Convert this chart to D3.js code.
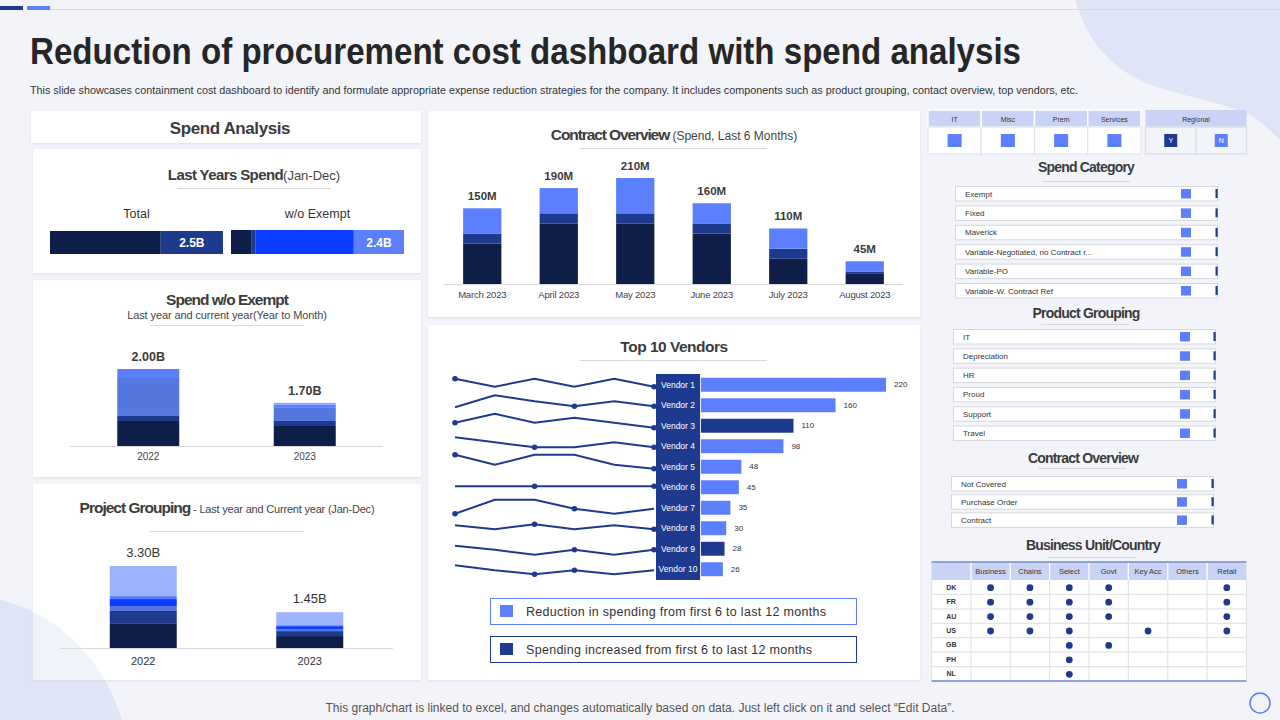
<!DOCTYPE html>
<html><head><meta charset="utf-8">
<script src="https://cdn.jsdelivr.net/npm/d3@7"></script>
<style>html,body{margin:0;padding:0;background:#f3f4f9;overflow:hidden}svg{display:block;font-family:"Liberation Sans",Arial,sans-serif}</style>
</head><body><svg id="c" width="1280" height="720"></svg>
<script>
// ---------------- DATA ----------------
const titleText = "Reduction of procurement cost dashboard with spend analysis";
const subtitleText = "This slide showcases containment cost dashboard to identify and formulate appropriate expense reduction strategies for the company. It includes components such as product grouping, contact overview, top vendors, etc.";
const footerText = "This graph/chart is linked to excel, and changes automatically based on data. Just left click on it and select \u201CEdit Data\u201D.";

const lastYearBars = ["Total", "w/o Exempt"];
const lastYearValues = ["2.5B", "2.4B"];
const totalShares = [64, 36];
const woExemptShares = [12, 2, 57, 29];

const spendYears = ["2022", "2023"];
const spendWo2022 = [0.65, 0.13, 1.01, 0.21, 0];
const spendWo2023 = [0.52, 0.13, 0.34, 0.08, 0.05];
const spendWoLabels = ["2.00B", "1.70B"];

const project2022 = [0.97, 0.52, 0.20, 0.28, 0.12, 1.21];
const project2023 = [0.48, 0.20, 0.08, 0.12, 0.04, 0.52];
const projectLabels = ["3.30B", "1.45B"];

const months = ["March 2023", "April 2023", "May 2023", "June 2023", "July 2023", "August 2023"];
const contractDark = [80, 120, 120, 100, 50, 20];
const contractNavy = [20, 20, 20, 20, 20, 4];
const contractLight = [50, 50, 70, 40, 40, 21];
const contractLabels = ["150M", "190M", "210M", "160M", "110M", "45M"];

const vendors = ["Vendor 1","Vendor 2","Vendor 3","Vendor 4","Vendor 5","Vendor 6","Vendor 7","Vendor 8","Vendor 9","Vendor 10"];
const vendorSpend = [220, 160, 110, 98, 48, 45, 35, 30, 28, 26];
const vendorIncreased = [false, false, true, false, false, false, false, false, true, false];
const vendorSpark = [
  [6,-2,6,-2,6,-2],
  [-2,10,4,-1,4,-1],
  [3,12,3,8,3,-2],
  [9,4,-1,-1,4,-1],
  [12,2,12,12,2,-2],
  [1,1,1,1,1,1],
  [-6,8,8,-1,-6,-1],
  [3,-1,4,-1,3,-1],
  [3,-1,-6,-1,-6,-1],
  [4,-1,-5,-1,-5,-1]
];
const vendorSparkDots = [[0,5],[3,5],[0,5],[2,5],[0,5],[2,5],[0,3],[2,5],[3,5],[2,3]];
const legendItems = ["Reduction in spending from first 6 to last 12 months", "Spending increased from first 6 to last 12 months"];

const filterTypes = ["IT", "Misc", "Prem", "Services"];
const regionalOptions = ["Y", "N"];
const spendCategories = ["Exempt", "Fixed", "Maverick", "Variable-Negotiated,  no Contract r...", "Variable-PO", "Variable-W. Contract Ref"];
const productGroups = ["IT", "Depreciation", "HR", "Proud", "Support", "Travel"];
const contractTypes = ["Not Covered", "Purchase  Order", "Contract"];
const businessUnits = ["Business", "Chains", "Select", "Govt", "Key  Acc", "Others", "Retail"];
const countries = ["DK", "FR", "AU", "US", "GB", "PH", "NL"];
const unitMatrix = [
  [1,1,1,1,0,0,1],
  [1,1,1,1,0,0,1],
  [1,1,1,1,0,0,1],
  [1,1,1,0,1,0,1],
  [0,0,1,1,0,0,0],
  [0,0,1,0,0,0,0],
  [0,0,1,0,0,0,0]
];

// ---------------- STYLE ----------------
const C = {dark:"#0f1e48", navy:"#1e3a8f", mid:"#5577e0", light:"#5b7fff", bright:"#0a3dff", pale:"#9db3ff", vlight:"#8ea6ff", text:"#333", head:"#3b3b3b", rule:"#d9d9d9", hdr:"#c9d3f5"};
const svg = d3.select("#c");
svg.style("white-space","pre");
const defs = svg.append("defs");
const f = defs.append("filter").attr("id","sh").attr("x","-5%").attr("y","-5%").attr("width","110%").attr("height","115%");
f.append("feDropShadow").attr("dx",0).attr("dy",1).attr("stdDeviation",1.2).attr("flood-color","#8890b0").attr("flood-opacity",0.2);

svg.append("rect").attr("width",1280).attr("height",720).attr("fill","#f3f4f9");
const blobTR = "M1075,0 C1090,50 1120,75 1160,88 C1200,100 1230,105 1250,115 C1265,125 1275,135 1280,140 L1280,0 Z";
const blobBL = "M0,600 C50,612 100,650 122,720 L0,720 Z";
svg.append("path").attr("d",blobTR).attr("fill","#dfe4f6");
svg.append("path").attr("d",blobBL).attr("fill","#dfe4f6");

svg.append("line").attr("x1",50).attr("x2",1280).attr("y1",9.5).attr("y2",9.5).attr("stroke","#d5d8e2").attr("stroke-width",1);
svg.append("rect").attr("x",0).attr("y",6).attr("width",23).attr("height",4).attr("fill",C.navy);
svg.append("rect").attr("x",27).attr("y",6).attr("width",23).attr("height",4).attr("fill",C.light);

svg.append("text").attr("x",30).attr("y",64).attr("font-size",36).attr("font-weight",700).attr("fill","#262626")
  .attr("textLength",991).attr("lengthAdjust","spacingAndGlyphs").text(titleText);
svg.append("text").attr("x",30).attr("y",94).attr("font-size",10.5).attr("fill","#333")
  .attr("textLength",1048).attr("lengthAdjust","spacingAndGlyphs").text(subtitleText);

function panel(x,y,w,h){ svg.append("rect").attr("x",x).attr("y",y).attr("width",w).attr("height",h).attr("fill","#fff").attr("filter","url(#sh)"); }
function rule(x1,x2,y){ svg.append("line").attr("x1",x1).attr("x2",x2).attr("y1",y+0.5).attr("y2",y+0.5).attr("stroke",C.rule).attr("stroke-width",1); }
function title(x,y,parts){
  const t = svg.append("text").attr("x",x).attr("y",y).attr("text-anchor","middle").attr("fill",C.head);
  parts.forEach(p => t.append("tspan").text(p.t).attr("font-size",p.s).attr("font-weight",p.b?700:400)
    .attr("letter-spacing",p.ls!==undefined?p.ls:(p.b?-0.8:0)).attr("fill",p.b?C.head:"#444"));
  return t;
}
function txt(x,y,s,opts={}){
  return svg.append("text").attr("x",x).attr("y",y).text(s).attr("font-size",opts.size||10)
    .attr("font-weight",opts.bold?700:400).attr("fill",opts.fill||C.text).attr("text-anchor",opts.anchor||"middle")
    .attr("dominant-baseline",opts.db||"auto");
}

panel(31,111,390,32);
panel(33,149,388,124);
panel(33,280,388,197);
panel(33,484,388,196);
panel(428,111,492,206);
panel(428,325,492,355);
svg.append("path").attr("d",blobBL).attr("fill","#dfe4f6").attr("opacity",0.45);

// ---------------- Spend Analysis ----------------
title(230,134,[{t:"Spend Analysis",s:17,b:true,ls:-0.4}]);
title(254,180,[{t:"Last Years Spend",s:15,b:true,ls:-0.6},{t:"(Jan-Dec)",s:13,b:false}]);
rule(177,331,188);

const hbars = [
  {x0:50,x1:223,y:231,shares:totalShares,colors:[C.dark,C.navy]},
  {x0:231,x1:404,y:230,shares:woExemptShares,colors:[C.dark,C.navy,C.bright,C.light]}
];
hbars.forEach((b,i)=>{
  const xs = d3.scaleLinear().domain([0,d3.sum(b.shares)]).range([b.x0,b.x1]);
  txt((b.x0+b.x1)/2,218,lastYearBars[i],{size:12.5,fill:"#333"});
  let acc=0, last=null;
  b.shares.forEach((v,j)=>{
    svg.append("rect").attr("x",xs(acc)).attr("y",b.y).attr("width",xs(acc+v)-xs(acc)).attr("height",254-b.y).attr("fill",b.colors[j]);
    last=[xs(acc),xs(acc+v)]; acc+=v;
  });
  txt((last[0]+last[1])/2,247,lastYearValues[i],{size:12,bold:true,fill:"#fff"});
});

// ---------------- Spend w/o Exempt ----------------
title(227,305,[{t:"Spend w/o Exempt",s:15.5,b:true,ls:-1}]);
title(227,319,[{t:"Last year and current year(Year to Month)",s:11,b:false,ls:-0.1}]);
rule(150,304,325);
function vstack(cx,w,vals,colors,y){
  let acc=0;
  vals.forEach((v,i)=>{
    const y0=y(acc), y1=y(acc+v);
    if(v>0) svg.append("rect").attr("x",cx-w/2).attr("y",y1).attr("width",w).attr("height",y0-y1).attr("fill",colors[i]);
    acc+=v;
  });
  return y(acc);
}
{
  const x = d3.scalePoint().domain(spendYears).range([70,383]).padding(0.5);
  const y = d3.scaleLinear().domain([0,2.00]).range([446,369]);
  const cols=[C.dark,C.navy,C.mid,C.light,C.vlight];
  [spendWo2022,spendWo2023].forEach((vals,i)=>{
    const top = vstack(x(spendYears[i]),62,vals,cols,y);
    txt(x(spendYears[i]),top-8,spendWoLabels[i],{size:12.5,bold:true,fill:"#3b3b3b"});
    txt(x(spendYears[i]),460,spendYears[i],{size:10,fill:"#444"});
  });
  svg.append("line").attr("x1",70).attr("x2",383).attr("y1",446.5).attr("y2",446.5).attr("stroke",C.rule);
}

// ---------------- Project Grouping ----------------
title(227,513,[{t:"Project Grouping",s:15.5,b:true,ls:-1},{t:" - Last year and Current year (Jan-Dec)",s:11,b:false,ls:-0.2}]);
rule(150,304,531);
{
  const x = d3.scalePoint().domain(spendYears).range([60,393]).padding(0.5);
  const y = d3.scaleLinear().domain([0,3.30]).range([648,566]);
  const cols=[C.dark,C.navy,C.mid,C.bright,C.light,C.pale];
  [project2022,project2023].forEach((vals,i)=>{
    const top = vstack(x(spendYears[i]),67,vals,cols,y);
    txt(x(spendYears[i]),top-9,projectLabels[i],{size:13,fill:"#333"}).attr("font-weight",500);
    txt(x(spendYears[i]),665,spendYears[i],{size:11,fill:"#333"});
  });
  svg.append("line").attr("x1",60).attr("x2",393).attr("y1",648.5).attr("y2",648.5).attr("stroke",C.rule);
}

// ---------------- Contract Overview ----------------
title(674,140,[{t:"Contract Overview",s:15.5,b:true,ls:-1.1},{t:" (Spend, Last 6 Months)",s:12,b:false}]);
rule(580,767,148);
{
  const x = d3.scaleBand().domain(months).range([444,903]).paddingInner(0.5).paddingOuter(0.25);
  const y = d3.scaleLinear().domain([0,210]).range([284,178]);
  months.forEach((m,i)=>{
    const top = vstack(x(m)+x.bandwidth()/2,x.bandwidth(),[contractDark[i],contractNavy[i],contractLight[i]],[C.dark,C.navy,C.light],y);
    txt(x(m)+x.bandwidth()/2,top-8.5,contractLabels[i],{size:11.5,bold:true,fill:"#3b3b3b"});
    txt(x(m)+x.bandwidth()/2,298,m,{size:9.5,fill:"#444"}).attr("letter-spacing",-0.2);
  });
  svg.append("line").attr("x1",444).attr("x2",903).attr("y1",284.5).attr("y2",284.5).attr("stroke",C.rule);
}

// ---------------- Top 10 Vendors ----------------
title(674,352,[{t:"Top 10 Vendors",s:15.5,b:true,ls:-0.5}]);
rule(580,767,360);
{
  const y = d3.scaleBand().domain(vendors).range([374.5,579.5]).paddingInner(0.32).paddingOuter(0.16);
  const x = d3.scaleLinear().domain([0,220]).range([701,886]);
  const sx = d3.scalePoint().domain(d3.range(6)).range([455,654]);
  const sy = d3.scaleLinear().domain([-10,10]).range([10,-10]);
  svg.append("rect").attr("x",656).attr("y",374).attr("width",44).attr("height",206).attr("fill",C.navy);
  vendors.forEach((v,i)=>{
    const cy = y(v)+y.bandwidth()/2;
    const line = d3.line().x((d,j)=>sx(j)).y(d=>cy+sy(d));
    svg.append("path").attr("d",line(vendorSpark[i])).attr("fill","none").attr("stroke",C.navy).attr("stroke-width",2);
    vendorSparkDots[i].forEach(j=>svg.append("circle").attr("cx",sx(j)).attr("cy",cy+sy(vendorSpark[i][j])).attr("r",2.8).attr("fill",C.navy));
    txt(678,cy,v,{size:8.5,fill:"#fff",db:"central"});
    svg.append("rect").attr("x",x(0)).attr("y",y(v)).attr("width",x(vendorSpend[i])-x(0)).attr("height",y.bandwidth())
      .attr("fill",vendorIncreased[i]?C.navy:C.light);
    txt(x(vendorSpend[i])+8,cy,String(vendorSpend[i]),{size:8,anchor:"start",db:"central",fill:"#333"});
  });
  svg.append("line").attr("x1",700.5).attr("x2",700.5).attr("y1",374).attr("y2",580).attr("stroke","#e8eaf2");
  // legend
  const lg = [{y:598,c:C.light,w:300},{y:636,c:C.navy,w:286}];
  lg.forEach((l,i)=>{
    svg.append("rect").attr("x",490.5).attr("y",l.y+0.5).attr("width",366).attr("height",26).attr("fill","#fff").attr("stroke",l.c).attr("stroke-width",1);
    svg.append("rect").attr("x",500).attr("y",l.y+7).attr("width",13).attr("height",12).attr("fill",l.c);
    txt(526,l.y+18,legendItems[i],{size:12.5,anchor:"start",fill:"#333"}).attr("textLength",l.w).attr("lengthAdjust","spacing");
  });
}

// ---------------- Footer ----------------
txt(640,712,footerText,{size:12,fill:"#555"}).attr("textLength",629).attr("lengthAdjust","spacingAndGlyphs");
svg.append("circle").attr("cx",1260).attr("cy",703).attr("r",10).attr("fill","none").attr("stroke",C.light).attr("stroke-width",1.5);

// ---------------- Right filters ----------------
{
  const fx = d3.scaleBand().domain(filterTypes).range([928,1141]);
  filterTypes.forEach(t=>{
    svg.append("rect").attr("x",fx(t)).attr("y",110).attr("width",fx.bandwidth()).attr("height",17).attr("fill",C.hdr).attr("stroke","#fff").attr("stroke-width",1.5);
    svg.append("rect").attr("x",fx(t)).attr("y",127).attr("width",fx.bandwidth()).attr("height",27).attr("fill","#fff").attr("stroke","#e1e4ec").attr("stroke-width",1.2);
    txt(fx(t)+fx.bandwidth()/2,119,t,{size:7,db:"central",fill:"#333"});
    svg.append("rect").attr("x",fx(t)+fx.bandwidth()/2-7).attr("y",134).attr("width",14).attr("height",13).attr("fill",C.light);
  });
  const rx = d3.scaleBand().domain(regionalOptions).range([1145.5,1246.5]);
  svg.append("rect").attr("x",1145.5).attr("y",110).attr("width",101).attr("height",17).attr("fill",C.hdr);
  txt(1196,119,"Regional",{size:7,db:"central",fill:"#333"});
  regionalOptions.forEach((o,i)=>{
    svg.append("rect").attr("x",rx(o)).attr("y",127).attr("width",rx.bandwidth()).attr("height",27).attr("fill","#f3f4f9").attr("stroke","#dde0e8").attr("stroke-width",1.5);
    const c = rx(o)+rx.bandwidth()/2;
    svg.append("rect").attr("x",c-6.5).attr("y",134).attr("width",13).attr("height",13).attr("fill",i===0?C.navy:C.light);
    txt(c,140.5,o,{size:7,db:"central",fill:"#fff"});
  });
}
function listGroup(items,x,y0,step,w,sqX,tickX,titleText,tx,ty,rx1,rx2,ry){
  title(tx,ty,[{t:titleText,s:14,b:true,ls:-0.8}]);
  rule(rx1,rx2,ry);
  items.forEach((it,i)=>{
    const y = y0+i*step;
    svg.append("rect").attr("x",x+0.5).attr("y",y+0.5).attr("width",w).attr("height",14.5).attr("fill","#fff").attr("stroke","#d6d8de");
    txt(x+10,y+8,it,{size:8,anchor:"start",db:"central",fill:"#333"});
    svg.append("rect").attr("x",sqX).attr("y",y+3).attr("width",10).attr("height",9.5).attr("fill",C.light);
    svg.append("rect").attr("x",tickX).attr("y",y+3).attr("width",2.2).attr("height",9).attr("fill",C.navy);
  });
}
listGroup(spendCategories,955,186,19.4,262,1181,1215.5,"Spend Category",1086,172,1042,1130,181);
listGroup(productGroups,953,329,19.3,262,1180,1213.5,"Product Grouping",1086,318,1041,1129,324);
listGroup(contractTypes,951,476,18.2,262,1177,1211.5,"Contract Overview",1083,463,1038,1126,468);

// ---------------- Business Unit / Country ----------------
title(1093,550,[{t:"Business Unit/Country",s:14,b:true,ls:-0.8}]);
rule(1048,1136,557);
{
  const cols = ["", ...businessUnits];
  const x = d3.scaleBand().domain(cols).range([931.5,1246.5]);
  const y = d3.scaleBand().domain(countries).range([580,681]);
  svg.append("rect").attr("x",931.5).attr("y",562).attr("width",315).attr("height",18).attr("fill",C.hdr);
  svg.append("rect").attr("x",931.5).attr("y",580).attr("width",315).attr("height",101).attr("fill","#fff");
  countries.forEach((c,i)=>{
    if(i>0) svg.append("line").attr("x1",931.5).attr("x2",1246.5).attr("y1",y(c)).attr("y2",y(c)).attr("stroke","#e2e4ea").attr("stroke-width",1.2);
  });
  cols.forEach((c,i)=>{
    if(i>0) svg.append("line").attr("x1",x(c)).attr("x2",x(c)).attr("y1",562).attr("y2",681).attr("stroke",i>0?"#e2e4ea":"none").attr("stroke-width",1.2);
  });
  svg.append("line").attr("x1",1246.5).attr("x2",1246.5).attr("y1",562).attr("y2",681).attr("stroke","#e2e4ea").attr("stroke-width",1.2);
  svg.append("line").attr("x1",931.5).attr("x2",931.5).attr("y1",562).attr("y2",681).attr("stroke","#e2e4ea").attr("stroke-width",1.2);
  businessUnits.forEach(b=>{
    svg.append("line").attr("x1",x(b)).attr("x2",x(b)).attr("y1",563).attr("y2",580).attr("stroke","#fff").attr("stroke-width",1.2);
    txt(x(b)+x.bandwidth()/2,571.5,b,{size:7.5,db:"central",fill:"#333"});
  });
  svg.append("line").attr("x1",931.5).attr("x2",1246.5).attr("y1",562).attr("y2",562).attr("stroke","#8fa2dc").attr("stroke-width",2);
  svg.append("line").attr("x1",931.5).attr("x2",1246.5).attr("y1",681).attr("y2",681).attr("stroke","#8fa2dc").attr("stroke-width",2);
  countries.forEach((c,i)=>{
    const cy = y(c)+y.bandwidth()/2;
    txt(x("")+x.bandwidth()/2,cy,c,{size:7,bold:true,db:"central",fill:"#333"});
    businessUnits.forEach((b,j)=>{
      if(unitMatrix[i][j]) svg.append("circle").attr("cx",x(b)+x.bandwidth()/2).attr("cy",cy+0.5).attr("r",3.4).attr("fill",C.navy);
    });
  });
}
</script></body></html>
